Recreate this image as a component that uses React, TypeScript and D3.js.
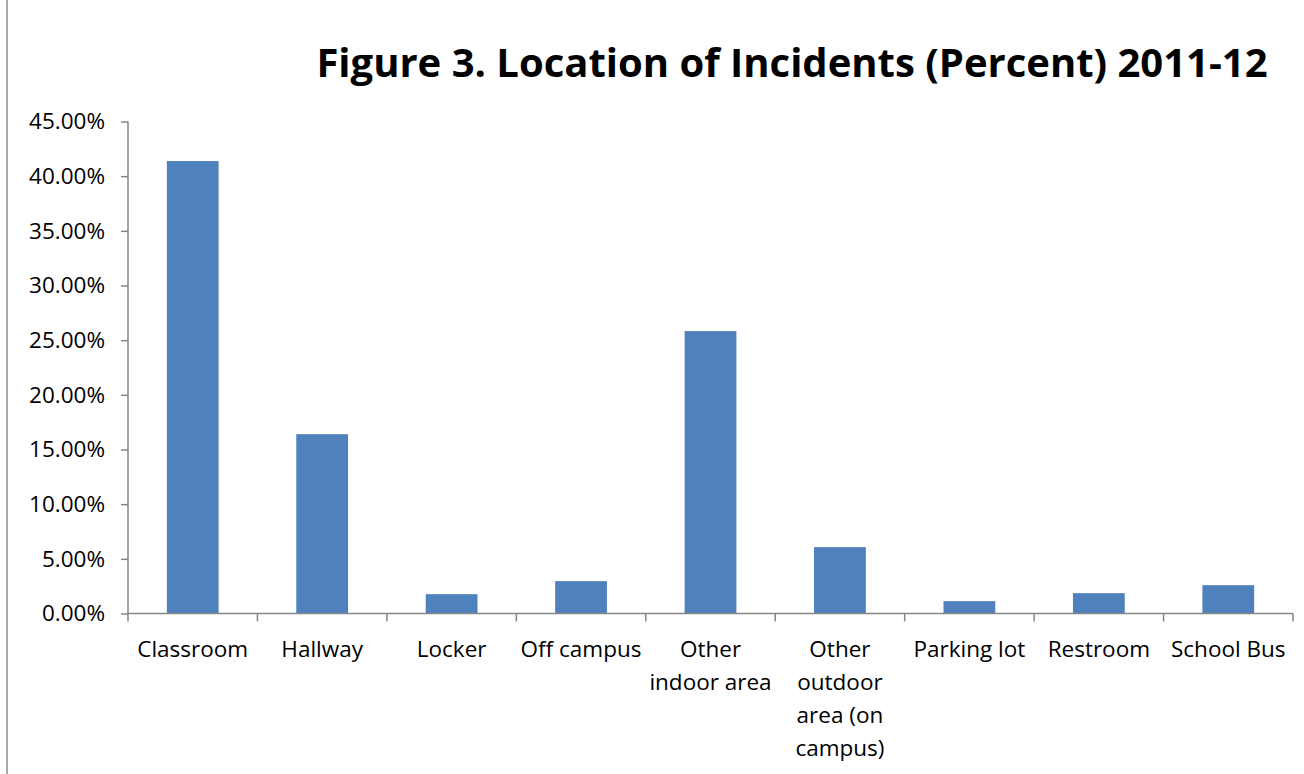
import React, { useEffect, useRef } from 'react';
import * as d3 from 'd3';

const categories = [
  ['Classroom'],
  ['Hallway'],
  ['Locker'],
  ['Off campus'],
  ['Other', 'indoor area'],
  ['Other', 'outdoor', 'area (on', 'campus)'],
  ['Parking lot'],
  ['Restroom'],
  ['School Bus'],
];
const values = [41.38, 16.4, 1.77, 2.96, 25.83, 6.07, 1.13, 1.86, 2.59];
const yTicks = [0, 5, 10, 15, 20, 25, 30, 35, 40, 45];
const title = 'Figure 3. Location of Incidents (Percent) 2011-12';

const font = '"Open Sans", "Noto Sans", sans-serif';

const App: React.FC = () => {
  const svgRef = useRef<SVGSVGElement | null>(null);

  useEffect(() => {
    if (!svgRef.current) return;
    const svg = d3.select(svgRef.current);
    const width = 1304;
    const height = 774;
    const margin = { top: 121.5, right: 11, bottom: 160.5, left: 128 };

    svg.selectAll('*').remove();

    // outer frame line on the left
    svg.append('line')
      .attr('x1', 7).attr('x2', 7)
      .attr('y1', 0).attr('y2', height)
      .attr('stroke', '#8c8c8c').attr('stroke-width', 1.5);

    const keys = categories.map(c => c.join(' '));

    const x = d3.scaleBand()
      .domain(keys)
      .range([margin.left, width - margin.right])
      .paddingInner(0.6)
      .paddingOuter(0.3);

    const y = d3.scaleLinear()
      .domain([0, 45])
      .range([height - margin.bottom, margin.top]);

    // title
    svg.append('text')
      .attr('x', 792)
      .attr('y', 77)
      .attr('text-anchor', 'middle')
      .attr('font-family', font)
      .attr('font-weight', 'bold')
      .attr('font-size', 40)
      .attr('fill', '#000')
      .text(title);

    // y axis
    const yAxis = svg.append('g')
      .attr('transform', `translate(${margin.left},0)`)
      .call(d3.axisLeft(y).tickValues(yTicks).tickSize(7).tickPadding(16)
        .tickFormat(d => `${(+d).toFixed(2)}%`));
    yAxis.select('.domain').attr('stroke', '#868686').attr('stroke-width', 1.5)
      .attr('d', `M0,${y(45)}V${y(0)}`);
    yAxis.selectAll('.tick line').attr('stroke', '#868686').attr('stroke-width', 1.5);
    yAxis.selectAll('.tick text')
      .attr('font-family', font).attr('font-size', 22.5).attr('fill', '#000');

    // bars
    svg.append('g')
      .selectAll('rect')
      .data(values)
      .join('rect')
      .attr('x', (_, i) => x(keys[i])!)
      .attr('y', d => y(d))
      .attr('width', x.bandwidth())
      .attr('height', d => y(0) - y(d))
      .attr('fill', '#4f81bd');

    // x axis
    const step = x.step();
    const x0 = margin.left;
    const xAxisG = svg.append('g').attr('transform', `translate(0,${y(0)})`);
    xAxisG.append('path')
      .attr('d', `M${x0},0H${width - margin.right}`)
      .attr('stroke', '#868686').attr('stroke-width', 1.5).attr('fill', 'none');
    xAxisG.selectAll('line.tick')
      .data(d3.range(categories.length + 1))
      .join('line')
      .attr('class', 'tick')
      .attr('x1', i => x0 + i * step).attr('x2', i => x0 + i * step)
      .attr('y1', 0).attr('y2', 8)
      .attr('stroke', '#868686').attr('stroke-width', 1.5);

    const labels = xAxisG.selectAll('text.cat')
      .data(categories)
      .join('text')
      .attr('class', 'cat')
      .attr('text-anchor', 'middle')
      .attr('font-family', font)
      .attr('font-size', 22.5)
      .attr('fill', '#000');
    labels.each(function (lines, i) {
      const t = d3.select(this);
      const cx = x(keys[i])! + x.bandwidth() / 2;
      lines.forEach((line, j) => {
        t.append('tspan')
          .attr('x', cx)
          .attr('y', 43 + j * 33.3)
          .text(line);
      });
    });
  }, []);

  return <svg ref={svgRef} width={1304} height={774} style={{ display: 'block', position: 'absolute', left: 0, top: 0 }} />;
};

export default App;
